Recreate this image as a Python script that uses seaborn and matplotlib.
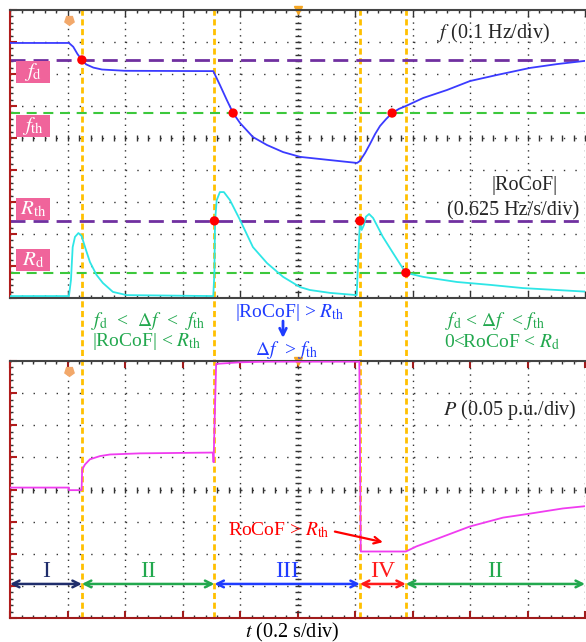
import matplotlib.pyplot as plt
import matplotlib.transforms as mtransforms
from matplotlib.lines import Line2D
from matplotlib.patches import Rectangle
import numpy as np
import seaborn as sns

# scope traces: time in s (0.2 s/div), amplitude in screen divisions
f_t = [0.0, 0.205, 0.22, 0.235, 0.25, 0.265, 0.29, 0.32, 0.40, 0.707, 0.73, 0.754, 0.776, 0.80, 0.845,
       0.894, 0.95, 1.009, 1.113, 1.207, 1.217, 1.235, 1.252, 1.27, 1.287, 1.308, 1.329, 1.353, 1.377,
       1.437, 1.52, 1.6, 1.694, 1.809, 1.903, 2.0]
f_div = [7.97, 7.97, 7.85, 7.62, 7.44, 7.30, 7.20, 7.14, 7.10, 7.09, 6.66, 6.19, 5.78, 5.47, 5.03,
         4.78, 4.56, 4.41, 4.31, 4.22, 4.28, 4.53, 4.81, 5.125, 5.375, 5.59, 5.78, 5.91, 6.0,
         6.25, 6.5, 6.78, 6.97, 7.19, 7.31, 7.41]

rocof_t = [0.0, 0.205, 0.212, 0.218, 0.226, 0.238, 0.249, 0.261, 0.278, 0.301, 0.323, 0.358, 0.406,
           0.707, 0.711, 0.713, 0.719, 0.73, 0.744, 0.765, 0.80, 0.845, 0.894, 0.95, 1.009, 1.043,
           1.113, 1.206, 1.211, 1.217, 1.223, 1.231, 1.238, 1.249, 1.263, 1.297, 1.332, 1.376, 1.437,
           1.555, 1.67, 1.784, 2.0]
rocof_div = [0.06, 0.06, 0.56, 1.59, 1.91, 2.03, 1.94, 1.59, 1.125, 0.72, 0.47, 0.19, 0.09,
             0.06, 0.78, 2.375, 3.06, 3.31, 3.31, 3.06, 2.44, 1.59, 1.09, 0.66, 0.34, 0.25,
             0.16, 0.09, 1.19, 2.38, 2.125, 2.28, 2.54, 2.625, 2.5, 1.91, 1.41, 0.79, 0.66,
             0.5, 0.41, 0.31, 0.2]

p_t = [0.0, 0.205, 0.205, 0.249, 0.251, 0.261, 0.278, 0.313, 0.348, 0.452, 0.706, 0.708, 0.717,
       0.80, 0.893, 0.997, 1.215, 1.22, 1.377, 1.414, 1.496, 1.6, 1.715, 1.809, 1.923, 2.0]
p_div = [4.06, 4.06, 3.98, 3.98, 4.625, 4.78, 4.94, 5.04, 5.09, 5.125, 5.15, 4.85, 7.91,
         7.96, 7.98, 7.98, 7.98, 2.07, 2.07, 2.23, 2.5, 2.85, 3.125, 3.25, 3.41, 3.48]

# marked threshold crossings
f_dot_t = [0.25, 0.776, 1.329]
f_dot_div = [7.44, 5.78, 5.78]
rocof_dot_t = [0.711, 1.217, 1.377]
rocof_dot_div = [2.41, 2.41, 0.79]

# threshold levels (div)
f_levels = [7.44, 5.78]     # f_d, f_th
r_levels = [2.41, 0.79]     # R_th, R_d
f_tags = [r"$f_{\rm d}$", r"$f_{\rm th}$"]
r_tags = [r"$R_{\rm th}$", r"$R_{\rm d}$"]

event_t = [0.25, 0.711, 1.217, 1.377]
stage_edges = [0.0, 0.25, 0.711, 1.217, 1.377, 2.0]
stage_labels = ["I", "II", "III", "IV", "II"]
stage_colors = ["#1f2d6b", "#22a84e", "#1f3cff", "#ff1a1a", "#22a84e"]

sns.set_theme(style="white")
plt.rcParams["font.family"] = ["Liberation Serif", "DejaVu Serif"]
plt.rcParams["mathtext.fontset"] = "stix"

W, H = 586, 642
fig = plt.figure(figsize=(W / 100, H / 100), dpi=100)
ax_top = fig.add_axes([10 / W, 1 - 298 / H, 575 / W, 288 / H])
ax_bot = fig.add_axes([10 / W, 1 - 618 / H, 575 / W, 257 / H])

purple, green, orange, pink = "#7030a0", "#3cc83c", "#ffc000", "#f0649b"
txt_green, txt_blue, red = "#22a84e", "#1f3cff", "#ff0000"


def scope_frame(ax, ndiv, center_row, bottom_red):
    ax.set_facecolor("none")
    ax.set_xlim(0, 2)
    ax.set_ylim(0, ndiv)
    ax.set_xticks(np.arange(0, 2.01, 0.2))
    ax.set_xticks(np.arange(0, 2.01, 0.04), minor=True)
    ax.set_yticks(np.arange(0, ndiv + 0.01, 1))
    ax.set_yticks(np.arange(0, ndiv + 0.01, 0.2), minor=True)
    ax.tick_params(which="both", direction="in", top=True, bottom=True, left=True, right=False,
                   labelbottom=False, labelleft=False, color="#333333", width=1)
    ax.tick_params(which="major", length=5)
    ax.tick_params(which="minor", length=2.5)
    ax.tick_params(axis="y", which="major", color="#b01c1c", width=1.5)
    if bottom_red:
        ax.tick_params(axis="x", which="major", color="#a01c1c", width=1.5)
    ax.grid(axis="x", which="major", color="#333333", linestyle=(0, (1, 3.6)), linewidth=1)
    ax.grid(axis="y", which="major", color="#333333", linestyle=(0, (1, 7.3)), linewidth=1)
    ax.spines["right"].set_visible(False)
    ax.spines["left"].set_color("#b01c1c")
    ax.spines["top"].set_color("#444444")
    ax.spines["bottom"].set_color("#a01c1c" if bottom_red else "#444444")
    for s in ["left", "top", "bottom"]:
        ax.spines[s].set_linewidth(1.5)
    # centre crosshair marks
    ax.plot(np.full(int(ndiv * 5) + 1, 1.0), np.arange(0, ndiv + 0.01, 0.2), ls="none",
            marker="_", ms=5, mew=1, color="#333333")
    ax.plot(np.arange(0, 2.01, 0.04), np.full(51, center_row), ls="none",
            marker="|", ms=4, mew=1, color="#333333")
    # trigger markers
    ax.plot([0.205], [ndiv - 0.3], marker=(5, 0, 180), ms=7, color="#f2a86a", ls="none")
    ax.plot([1.0], [ndiv], marker="v", ms=6, color="#f5a623", ls="none", clip_on=False)


scope_frame(ax_top, 9, 5, False)
scope_frame(ax_bot, 8, 4, True)

# upper panel: f and |RoCoF|
for lvl, c, dash, lw in [(f_levels[0], purple, (5.4, 2.9), 2), (f_levels[1], green, (4.8, 3.2), 1.5),
                         (r_levels[0], purple, (5.4, 2.9), 2), (r_levels[1], green, (4.8, 3.2), 1.5)]:
    ax_top.axhline(lvl, color=c, linestyle=(0, dash), linewidth=lw, zorder=2)

sns.lineplot(x=f_t, y=f_div, ax=ax_top, color="#3b3bff", lw=1.3, estimator=None, sort=False, zorder=3)
sns.lineplot(x=rocof_t, y=rocof_div, ax=ax_top, color="#2ee6e6", lw=1.3, estimator=None, sort=False, zorder=3)
sns.scatterplot(x=f_dot_t + rocof_dot_t, y=f_dot_div + rocof_dot_div, ax=ax_top, color=red,
                s=45, edgecolor="none", zorder=5)

box_tops = [7.41, 5.72, 3.125, 1.53]
for top, tag in zip(box_tops, f_tags + r_tags):
    ax_top.add_patch(Rectangle((0.021, top - 0.70), 0.118, 0.70, facecolor=pink, edgecolor="none", zorder=4))
    ax_top.text(0.08, top - 0.35, tag, color="white", fontsize=15, ha="center", va="center", zorder=6)

ax_top.text(1.68, 8.28, r"$f$ (0.1 Hz/div)", fontsize=14.5, ha="center", va="center")
ax_top.text(1.79, 3.53, "|RoCoF|", fontsize=14.5, ha="center", va="center")
ax_top.text(1.75, 2.72, "(0.625 Hz/s/div)", fontsize=14.5, ha="center", va="center")

# lower panel: P and stage arrows
sns.lineplot(x=p_t, y=p_div, ax=ax_bot, color="#f03cf0", lw=1.3, estimator=None, sort=False, zorder=3)
ax_bot.text(1.739, 6.47, r"$P$ (0.05 p.u./div)", fontsize=14.5, ha="center", va="center")
ax_bot.text(0.936, 2.75, r"RoCoF > $R_{\rm th}$", fontsize=14, color=red, ha="center", va="center")
ax_bot.annotate("", xy=(1.297, 2.36), xytext=(1.13, 2.69),
                arrowprops=dict(arrowstyle="->", color=red, lw=1.6, shrinkA=0, shrinkB=0))

for a, b, lab, c in zip(stage_edges[:-1], stage_edges[1:], stage_labels, stage_colors):
    ax_bot.annotate("", xy=(b, 1.06), xytext=(a, 1.06),
                    arrowprops=dict(arrowstyle="<->", color=c, lw=1.8, shrinkA=0, shrinkB=0), zorder=4)
    ax_bot.text((a + b) / 2, 1.45, lab, color=c, fontsize=17, ha="center", va="center")

# event lines spanning both panels
trans = mtransforms.blended_transform_factory(ax_top.transData, fig.transFigure)
for t in event_t:
    fig.add_artist(Line2D([t, t], [1 - 618 / H, 1 - 10 / H], transform=trans, color=orange,
                          linewidth=2, linestyle=(0, (2.2, 1.3)), zorder=-1))

# condition texts between panels
def ftext(px, py, s, size=14, **kw):
    fig.text(px / W, 1 - py / H, s, ha="center", va="center", fontsize=size, **kw)


ftext(148, 321, r"$f_{\rm d}$  <  $\Delta f$  <  $f_{\rm th}$", color=txt_green)
ftext(147, 342, r"|RoCoF| < $R_{\rm th}$", color=txt_green)
ftext(290, 312, r"|RoCoF| > $R_{\rm th}$", color=txt_blue)
ftext(287, 350, r"$\Delta f$  > $f_{\rm th}$", color=txt_blue)
ax_top.annotate("", xy=(283 / W, 1 - 338 / H), xytext=(283 / W, 1 - 321 / H),
                xycoords="figure fraction", textcoords="figure fraction",
                arrowprops=dict(arrowstyle="->", color=txt_blue, lw=2, shrinkA=0, shrinkB=0))
ftext(495, 321, r"$f_{\rm d}$ < $\Delta f$  < $f_{\rm th}$", color=txt_green)
ftext(502, 342, r"0<RoCoF < $R_{\rm d}$", color=txt_green)
ftext(292, 632, r"$t$ (0.2 s/div)", size=14.5, color="black")

fig.savefig("out.png", dpi=100)
